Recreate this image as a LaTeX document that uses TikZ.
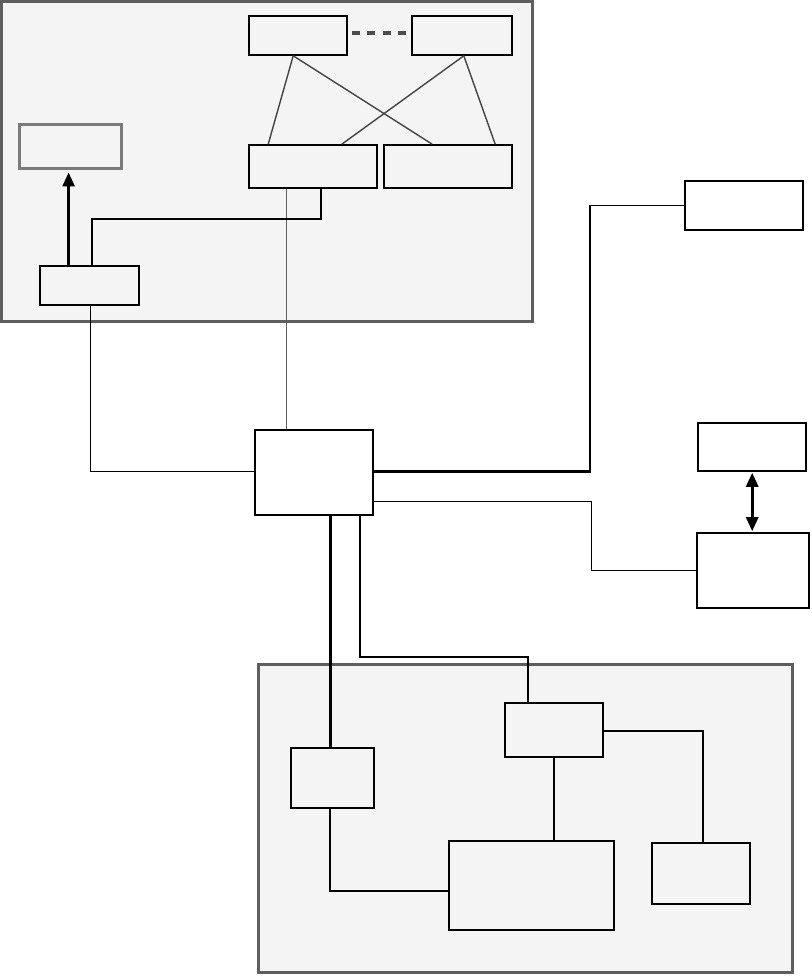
\documentclass[tikz,border=0pt]{standalone}
\usetikzlibrary{arrows.meta,calc}
\definecolor{contfill}{HTML}{F4F4F4}
\definecolor{contline}{HTML}{5E5E5E}
\definecolor{grayline}{HTML}{7A7A7A}
\definecolor{xline}{HTML}{444444}
\definecolor{dashcol}{HTML}{4D4D4D}
\tikzset{
  box/.style={draw=black, line width=1.6pt, inner sep=0pt, rectangle},
  graybox/.style={draw=grayline, line width=3pt, inner sep=0pt, rectangle},
  container/.style={draw=contline, fill=contfill, line width=3pt},
  thinln/.style={draw=black, line width=1.3pt},
  medln/.style={draw=black, line width=1.9pt},
  thickln/.style={draw=black, line width=2.8pt},
  crossln/.style={draw=xline, line width=1.4pt},
  dashln/.style={draw=dashcol, line width=3.2pt, dash pattern=on 8pt off 7.5pt},
  tip/.style={-{Triangle[length=14pt,width=12pt]}},
  dtip/.style={{Triangle[length=14pt,width=12pt]}-{Triangle[length=14pt,width=12pt]}}
}
\begin{document}
\begin{tikzpicture}[x=1pt,y=-1pt]
\useasboundingbox (0,0) rectangle (811,976);
% containers
\draw[container] (1.5,1.5) rectangle (532,321);
\draw[container] (258.5,664.5) rectangle (792,972);
% boxes
\node[box, minimum width=98pt, minimum height=39pt] (a1) at (298,35.5) {};
\node[box, minimum width=100pt, minimum height=39pt] (a2) at (462,35.5) {};
\node[box, minimum width=128pt, minimum height=43pt] (b1) at (313,166.5) {};
\node[box, minimum width=128pt, minimum height=43pt] (b2) at (448,166.5) {};
\node[graybox, minimum width=102pt, minimum height=44pt] (g) at (70,147) {};
\node[box, minimum width=99pt, minimum height=39pt] (c) at (89.5,285.5) {};
\node[box, minimum width=118pt, minimum height=85pt] (d) at (314,472.5) {};
\node[box, minimum width=118pt, minimum height=49pt] (e) at (744,205.5) {};
\node[box, minimum width=108pt, minimum height=48pt] (f) at (752,447) {};
\node[box, minimum width=112pt, minimum height=75pt] (h) at (753,570.5) {};
\node[box, minimum width=83pt, minimum height=60pt] (i) at (332.5,778) {};
\node[box, minimum width=98pt, minimum height=54pt] (j) at (554,730) {};
\node[box, minimum width=165pt, minimum height=89pt] (k) at (531.5,885.5) {};
\node[box, minimum width=98pt, minimum height=61pt] (l) at (701,873.5) {};
% helper coordinates
\coordinate (y219) at (0,219);
\coordinate (y657) at (0,657);
\coordinate (x591) at (591.5,0);
\coordinate (e1) at (590,205.5);
% dashed link
\draw[dashln] ($(a1.east)+(4,-2.5)$) -- ($(a2.west)+(-3,-2.5)$);
% cross links
\coordinate (ap1) at ($(a1.south west)+(45,0)$);
\coordinate (ap2) at ($(a2.south west)+(52.6,0)$);
\draw[crossln] (ap1) -- ($(b1.north west)+(20,0)$);
\draw[crossln] (ap1) -- ($(b2.north west)+(49,0)$);
\draw[crossln] (ap2) -- ($(b1.north west)+(93.6,0)$);
\draw[crossln] (ap2) -- ($(b2.north west)+(112,0)$);
% gray line B1 -> D
\coordinate (g1) at ($(b1.south west)+(38.3,0)$);
\draw[draw=contline, line width=1.8pt] (g1) -- (g1 |- d.north);
% C -> B1
\coordinate (c1) at ($(c.north west)+(53,0)$);
\coordinate (b1p) at ($(b1.south west)+(72.6,0)$);
\draw[medln] (c1) -- (c1 |- y219) -- (b1p |- y219) -- (b1p);
% C -> G arrow
\coordinate (ca) at ($(c.north west)+(29.4,0)$);
\draw[thickln, tip] (ca) -- ($(ca |- g.south)+(0,2)$);
% C -> D
\coordinate (c2) at ($(c.south west)+(51,0)$);
\draw[thinln] (c2) |- ($(d.west)+(0,-0.8)$);
% D -> E
\draw[thickln] ($(d.east)+(0,-0.8)$) -| (e1);
\draw[thinln] (e1) -- (e.west);
% D -> H
\coordinate (d2) at ($(d.north east)+(0,72)$);
\draw[thinln] (d2) -| (x591 |- h.west) -- (h.west);
% F <-> H
\coordinate (fa) at ($(f.south west)+(55,0)$);
\draw[thickln, dtip] ($(fa)+(0,1)$) -- ($(fa |- h.north)+(0,-1)$);
% D -> I
\coordinate (d3) at ($(d.south west)+(76,0)$);
\draw[thickln] (d3) -- (d3 |- i.north);
% D -> J
\coordinate (d4) at ($(d.south west)+(106,0)$);
\coordinate (j1) at ($(j.north west)+(23.7,0)$);
\draw[medln] (d4) -- (d4 |- y657) -- (j1 |- y657) -- (j1);
% I -> K
\coordinate (i1) at ($(i.south west)+(40,0)$);
\draw[medln] (i1) |- ($(k.north west)+(0,50.7)$);
% J -> K
\draw[thinln] (j.south) -- (j.south |- k.north);
% J -> L
\draw[medln] ($(j.east)+(0,1)$) -| ($(l.north west)+(52,0)$);
\end{tikzpicture}
\end{document}
